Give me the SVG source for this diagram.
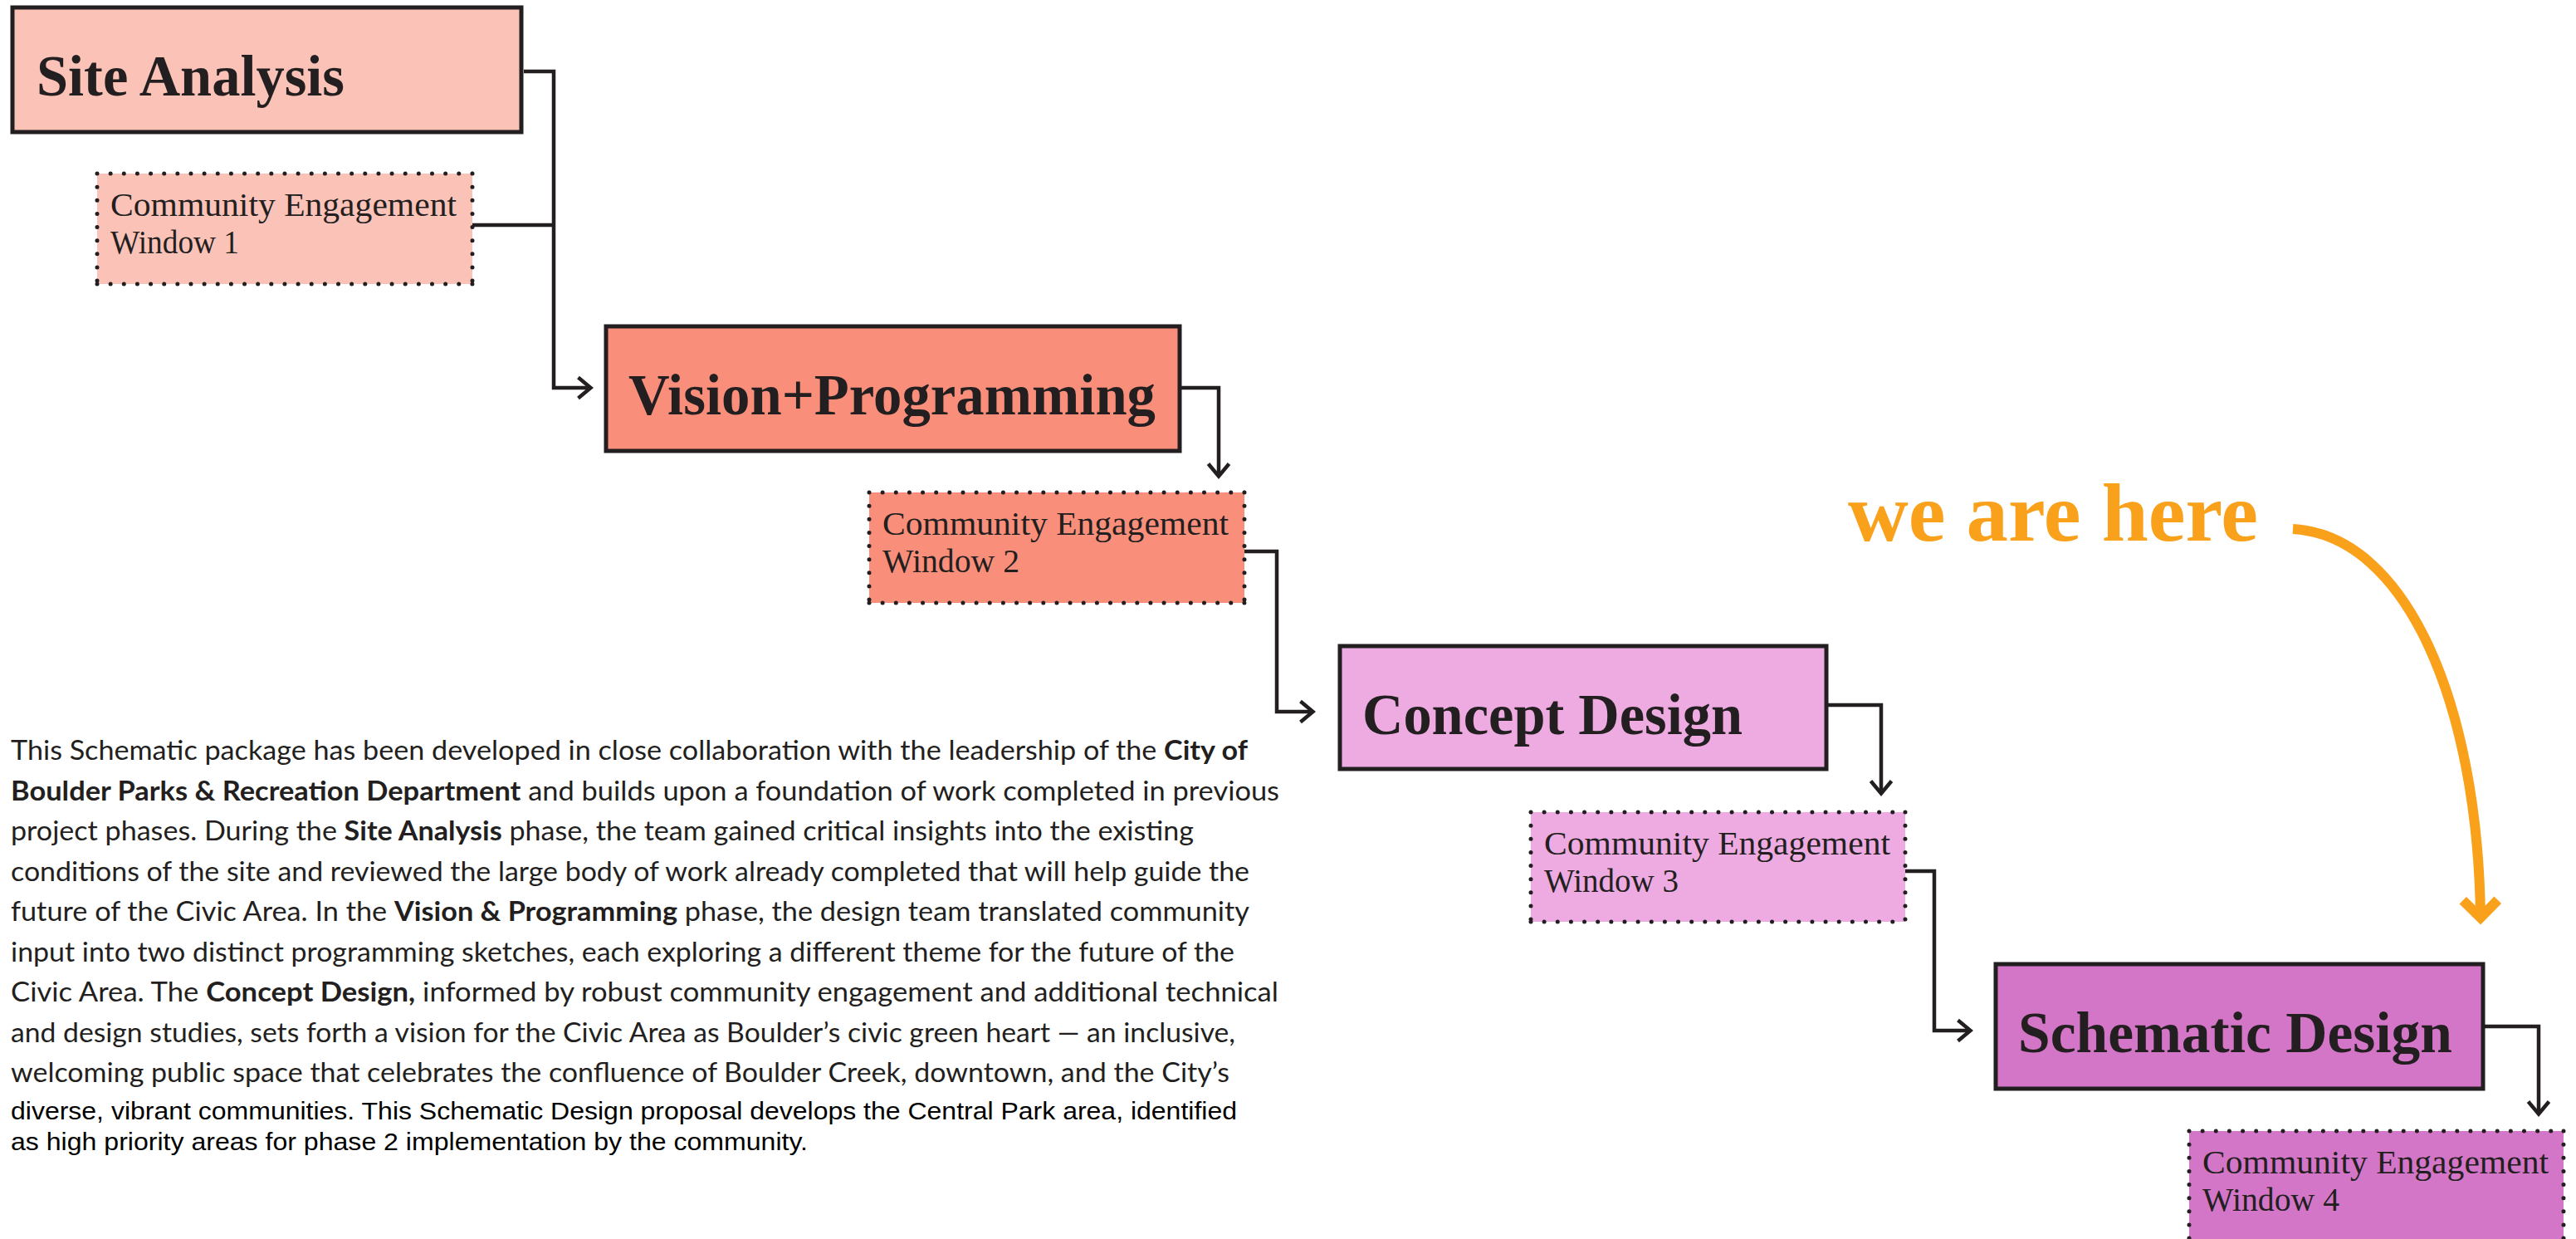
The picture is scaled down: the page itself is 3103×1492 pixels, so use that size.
<svg xmlns="http://www.w3.org/2000/svg" width="3103" height="1492" viewBox="0 0 3103 1492">
<style>
.phase{stroke:#231F20;stroke-width:5}
.title{font-family:"Liberation Serif",serif;font-weight:bold;font-size:69px;fill:#231F20}
.dots{fill:none;stroke:#231F20;stroke-width:5;stroke-linecap:round;stroke-dasharray:0 16.14}
.cew-text{font-family:"Liberation Serif",serif;font-size:39px;fill:#231F20}
.conn{fill:none;stroke:#231F20;stroke-width:4.5;stroke-linejoin:miter;stroke-linecap:butt}
.body{font-family:Lato,"Liberation Sans",sans-serif;font-size:33px;fill:#231F20}
.body2{font-family:"Liberation Sans",Arial,sans-serif;font-size:29px;fill:#000}
.b{font-weight:bold}
.here{font-family:"Liberation Serif",serif;font-weight:bold;font-size:100px;fill:#F9A11B}
.here-arrow{fill:none;stroke:#F9A11B;stroke-width:12;stroke-linecap:butt}
.c1{fill:#FBC3B8}.c2{fill:#F98F7B}.c3{fill:#EDABE1}.c4{fill:#D476C8}
</style>
<defs>
<marker id="ah" markerUnits="userSpaceOnUse" orient="auto" markerWidth="40" markerHeight="40" viewBox="-20 -20 40 40" refX="0" refY="0" overflow="visible">
<path d="M-15,-12.5 L0,0 L-15,12.5" fill="none" stroke="#231F20" stroke-width="4.5" stroke-linejoin="miter"/>
</marker>
<marker id="ah-orange" markerUnits="userSpaceOnUse" orient="auto" markerWidth="60" markerHeight="60" viewBox="-30 -30 60 60" refX="0" refY="0" overflow="visible">
<path d="M-21,-21 L0,0 L-21,21" fill="none" stroke="#F9A11B" stroke-width="12" stroke-linejoin="miter" stroke-miterlimit="10"/>
</marker>
</defs>
<rect width="3103" height="1492" fill="#FFFFFF"/>

<g id="connectors">
<path class="conn" d="M631,86 H667 V467 H711.5" marker-end="url(#ah)"/>
<path class="conn" d="M569,271 H667"/>
<path class="conn" d="M1423,467 H1468 V573.5" marker-end="url(#ah)"/>
<path class="conn" d="M1499,664 H1538 V857 H1581.5" marker-end="url(#ah)"/>
<path class="conn" d="M2202,849 H2266 V955.5" marker-end="url(#ah)"/>
<path class="conn" d="M2295,1049 H2330 V1241 H2373.5" marker-end="url(#ah)"/>
<path class="conn" d="M2993,1236 H3058 V1341.5" marker-end="url(#ah)"/>
<path class="here-arrow" d="M2762,637 C2900,645 2985,850 2988,1105" marker-end="url(#ah-orange)"/>
</g>

<g id="site-analysis">
<rect class="phase c1" x="15" y="9" width="613" height="150"/>
<text class="title" x="44" y="115" textLength="371" lengthAdjust="spacingAndGlyphs">Site Analysis</text>
</g>
<g id="cew-1">
<rect class="c1" x="117" y="209" width="452" height="133"/>
<path class="dots" d="M117,209 H569 M117,342 H569 M117,209 V342 M569,209 V342"/>
<text class="cew-text" x="133" y="260" textLength="417" lengthAdjust="spacingAndGlyphs">Community Engagement</text>
<text class="cew-text" x="133" y="305" textLength="155" lengthAdjust="spacingAndGlyphs">Window 1</text>
</g>

<g id="vision-programming">
<rect class="phase c2" x="730" y="393" width="691" height="150"/>
<text class="title" x="757" y="499" textLength="635" lengthAdjust="spacingAndGlyphs">Vision+Programming</text>
</g>
<g id="cew-2">
<rect class="c2" x="1047" y="593" width="452" height="133"/>
<path class="dots" d="M1047,593 H1499 M1047,726 H1499 M1047,593 V726 M1499,593 V726"/>
<text class="cew-text" x="1063" y="644" textLength="417" lengthAdjust="spacingAndGlyphs">Community Engagement</text>
<text class="cew-text" x="1063" y="689" textLength="165" lengthAdjust="spacingAndGlyphs">Window 2</text>
</g>

<g id="concept-design">
<rect class="phase c3" x="1614" y="778" width="586" height="148"/>
<text class="title" x="1641" y="884" textLength="458" lengthAdjust="spacingAndGlyphs">Concept Design</text>
</g>
<g id="cew-3">
<rect class="c3" x="1844" y="978" width="451" height="132"/>
<path class="dots" d="M1844,978 H2295 M1844,1110 H2295 M1844,978 V1110 M2295,978 V1110"/>
<text class="cew-text" x="1860" y="1029" textLength="417" lengthAdjust="spacingAndGlyphs">Community Engagement</text>
<text class="cew-text" x="1860" y="1074" textLength="162" lengthAdjust="spacingAndGlyphs">Window 3</text>
</g>

<g id="schematic-design">
<rect class="phase c4" x="2404" y="1161" width="587" height="150"/>
<text class="title" x="2431" y="1267" textLength="523" lengthAdjust="spacingAndGlyphs">Schematic Design</text>
</g>
<g id="cew-4">
<rect class="c4" x="2637" y="1362" width="451" height="133"/>
<path class="dots" d="M2637,1362 H3088 M2637,1495 H3088 M2637,1362 V1495 M3088,1362 V1495"/>
<text class="cew-text" x="2653" y="1413" textLength="417" lengthAdjust="spacingAndGlyphs">Community Engagement</text>
<text class="cew-text" x="2653" y="1458" textLength="165" lengthAdjust="spacingAndGlyphs">Window 4</text>
</g>

<g id="we-are-here">
<text class="here" x="2226" y="651" textLength="494" lengthAdjust="spacingAndGlyphs">we are here</text>
</g>

<g id="description">
<text class="body" x="13" y="915" textLength="1490" lengthAdjust="spacingAndGlyphs">This Schematic package has been developed in close collaboration with the leadership of the <tspan class="b">City of</tspan></text>
<text class="body" x="13" y="963.5" textLength="1528" lengthAdjust="spacingAndGlyphs"><tspan class="b">Boulder Parks &amp; Recreation Department</tspan> and builds upon a foundation of work completed in previous</text>
<text class="body" x="13" y="1012" textLength="1425" lengthAdjust="spacingAndGlyphs">project phases. During the <tspan class="b">Site Analysis</tspan> phase, the team gained critical insights into the existing</text>
<text class="body" x="13" y="1060.5" textLength="1492" lengthAdjust="spacingAndGlyphs">conditions of the site and reviewed the large body of work already completed that will help guide the</text>
<text class="body" x="13" y="1109" textLength="1492" lengthAdjust="spacingAndGlyphs">future of the Civic Area. In the <tspan class="b">Vision &amp; Programming</tspan> phase, the design team translated community</text>
<text class="body" x="13" y="1157.5" textLength="1474" lengthAdjust="spacingAndGlyphs">input into two distinct programming sketches, each exploring a different theme for the future of the</text>
<text class="body" x="13" y="1206" textLength="1527" lengthAdjust="spacingAndGlyphs">Civic Area. The <tspan class="b">Concept Design,</tspan> informed by robust community engagement and additional technical</text>
<text class="body" x="13" y="1254.5" textLength="1475" lengthAdjust="spacingAndGlyphs">and design studies, sets forth a vision for the Civic Area as Boulder’s civic green heart — an inclusive,</text>
<text class="body" x="13" y="1303" textLength="1468" lengthAdjust="spacingAndGlyphs">welcoming public space that celebrates the confluence of Boulder Creek, downtown, and the City’s</text>
<text class="body2" x="13" y="1348" textLength="1477" lengthAdjust="spacingAndGlyphs">diverse, vibrant communities. This Schematic Design proposal develops the Central Park area, identified</text>
<text class="body2" x="13" y="1385" textLength="960" lengthAdjust="spacingAndGlyphs">as high priority areas for phase 2 implementation by the community.</text>
</g>
</svg>
